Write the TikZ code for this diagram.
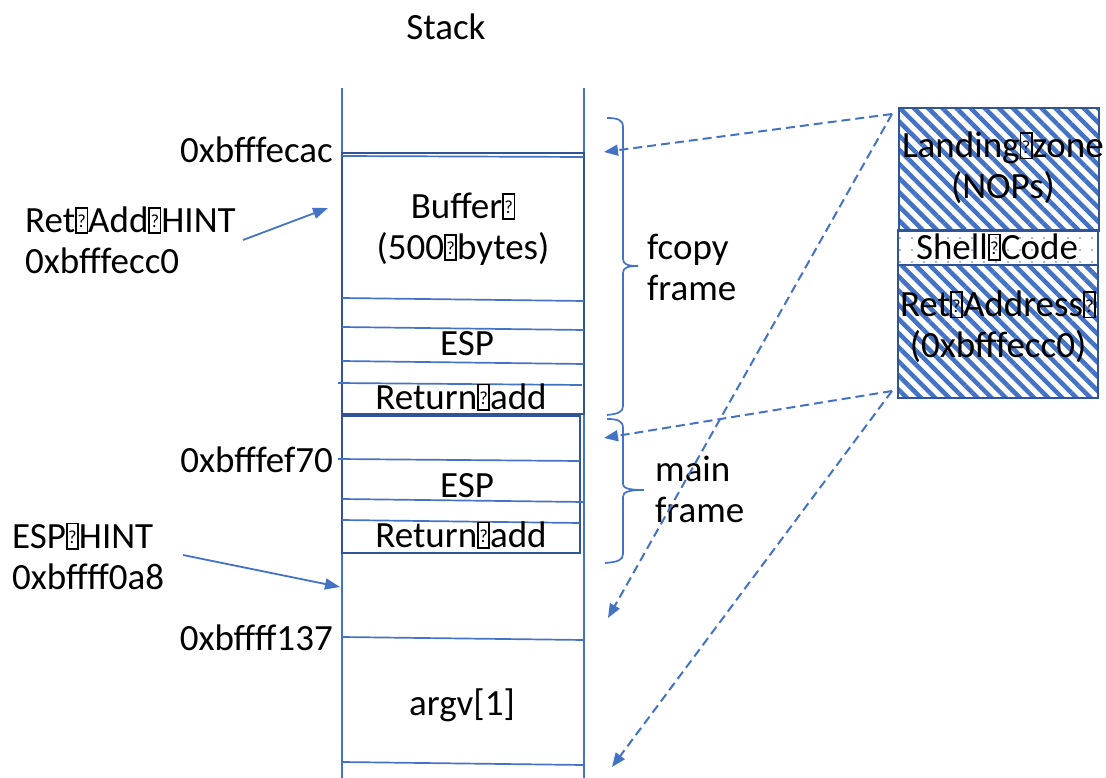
\documentclass[tikz,border=0pt]{standalone}
\usepackage{fontspec}
\usepackage{graphicx}
\setmainfont{Carlito}
\usetikzlibrary{arrows.meta,patterns.meta}
\definecolor{lb}{HTML}{4472C4}
\definecolor{db}{HTML}{2F5597}
\newcommand{\qb}{{\setlength{\fboxsep}{0pt}\setlength{\fboxrule}{0.045em}\fbox{\makebox[0.26em]{\rule{0pt}{0.64em}\raisebox{0.12em}{\scalebox{0.5}{?}}}}}}
\tikzset{
  txt/.style={font=\fontsize{37}{41}\selectfont, inner sep=0pt, align=center, text=black},
  ltxt/.style={txt, align=left},
  sline/.style={lb, line width=1.7pt},
  frm/.style={db, line width=2.2pt},
  hint/.style={lb, line width=1.8pt, -{Triangle[length=15pt,width=11pt]}},
  dasharrow/.style={lb, line width=2pt, dash pattern=on 9pt off 5pt, -{Triangle[length=14pt,width=11pt]}},
  bracestyle/.style={lb, line width=1.7pt},
  hatch/.style={draw=db, line width=2pt, inner sep=0pt, anchor=north west,
    pattern={Lines[angle=-45,distance=10pt,line width=4.5pt]}, pattern color=lb},
  dotted fill/.style={draw=db, line width=2pt, inner sep=0pt, anchor=north west,
    pattern={Dots[distance=12pt,radius=0.9pt]}, pattern color=lb},
}
\begin{document}
\begin{tikzpicture}[x=1pt,y=-1pt]
\useasboundingbox (0,0) rectangle (1106,778);

% title
\node[txt] (title) at (446,27) {Stack};

% stack columns
\draw[sline] (342,88) -- (342,778);
\draw[sline] (584,88) -- (584,778);

% fcopy frame
\draw[frm] (342,153) rectangle (584,414);
\draw[sline] (342,156) -- (584,157);
\draw[sline] (342,298) -- (584,301);
\draw[sline] (342,327) -- (584,330);
\draw[sline] (342,361) -- (584,364);
\draw[sline] (338,383) -- (582,385);

% main frame
\draw[frm] (342,416) rectangle (580,553);
\draw[sline] (338,459) -- (580,461);
\draw[sline] (342,499) -- (584,502);
\draw[sline] (342,520) -- (580,523);

% lower cells
\draw[sline] (342,637) -- (584,640);
\draw[sline] (342,762) -- (584,765);

% cell texts
\node[txt] (buf) at (463,229) {Buffer\qb\\(500\qb bytes)};
\node[txt] (esp1) at (467,344) {ESP};
\node[txt] (ret1) at (461,397) {Return\qb add};
\node[txt] (esp2) at (467,486) {ESP};
\node[txt] (ret2) at (461,535) {Return\qb add};
\node[txt] (argv) at (462,705) {argv[1]};

% addresses
\node[txt, anchor=east] (a1) at (333,150) {0xbfffecac};
\node[txt, anchor=east] (a2) at (333,460) {0xbfffef70};
\node[txt, anchor=east] (a3) at (333,638) {0xbffff137};

% hints
\node[ltxt, anchor=west] (rethint) at (25,240) {Ret\qb Add\qb HINT\\0xbfffecc0};
\node[ltxt, anchor=west] (esphint) at (12,556) {ESP\qb HINT\\0xbffff0a8};
\coordinate (rh1) at (243,240);
\coordinate (rh2) at (328,208);
\coordinate (eh1) at (183,555);
\coordinate (eh2) at (340,587);
\draw[hint] (rh1) -- (rh2);
\draw[hint] (eh1) -- (eh2);

% braces
\draw[bracestyle] (607,118) .. controls (618,118) and (623,120) .. (623,127)
  -- (623,259) .. controls (623,264) and (627,266) .. (638,266)
  .. controls (627,266) and (623,268) .. (623,273)
  -- (623,406) .. controls (623,412) and (618,414) .. (607,415);
\draw[bracestyle] (607,419) .. controls (618,419) and (623,421) .. (623,428)
  -- (623,484) .. controls (623,488) and (628,490) .. (644,490)
  .. controls (628,490) and (623,492) .. (623,497)
  -- (623,554) .. controls (623,560) and (618,562) .. (605,563);
\node[ltxt, anchor=west] (fcopy) at (647,267) {fcopy\\frame};
\node[ltxt, anchor=west] (mainf) at (655,489) {main\\frame};

% payload
\node[hatch, minimum width=200pt, minimum height=123pt] (land) at (897,106) {};
\node[dotted fill, minimum width=200pt, minimum height=35pt] (shell) at (897,229) {};
\node[hatch, minimum width=200pt, minimum height=133pt] (reta) at (897,264) {};
\node[txt] (landt) at (1003,168) {Landing\qb zone\\(NOPs)};
\node[txt] (shellt) at (997,247) {Shell\qb Code};
\node[txt] (retat) at (998,327) {Ret\qb Address\qb\\(0xbfffecc0)};

% dashed arrows
\coordinate (p1) at (892,114);
\coordinate (p2) at (892,391);
\coordinate (t1) at (604,152);
\coordinate (t2) at (608,618);
\coordinate (t3) at (604,438);
\coordinate (t4) at (612,767);
\draw[dasharrow] (p1) -- (t1);
\draw[dasharrow] (p1) -- (t2);
\draw[dasharrow] (p2) -- (t3);
\draw[dasharrow] (p2) -- (t4);
\end{tikzpicture}
\end{document}
